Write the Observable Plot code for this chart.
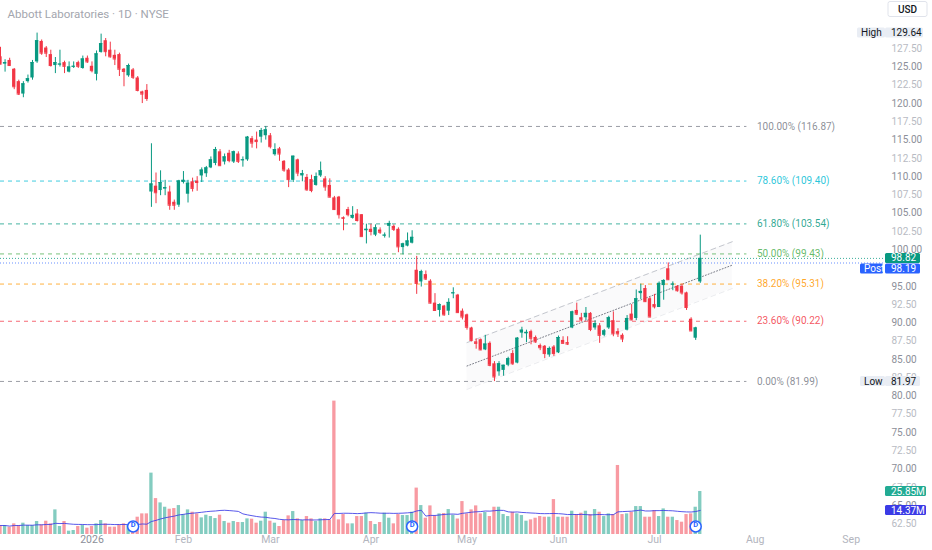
<!DOCTYPE html>
<html><head><meta charset="utf-8">
<script src="https://cdn.jsdelivr.net/npm/d3@7"></script>
<script src="https://cdn.jsdelivr.net/npm/@observablehq/plot@0.6"></script>
<style>
html,body{margin:0;padding:0;background:#fff;}
#chart{position:relative;width:932px;height:550px;overflow:hidden;}
#chart svg{position:absolute;left:0;top:0;background:transparent;}
</style></head><body><div id="chart"></div>
<script>
const title = "Abbott Laboratories · 1D · NYSE";
const currency = "USD";
// daily candles, index 0 = 3 Dec 2025 (trading days)
const open = [126.4,125.4,125.9,124.7,123.0,121.3,123.0,123.5,125.7,128.5,
127.6,126.7,125.2,125.3,125.6,124.3,125.0,125.6,124.8,126.2,
125.1,124.0,127.0,128.6,127.3,126.6,126.7,124.7,123.8,124.6,
123.5,121.6,121.8,107.9,108.7,108.1,108.3,107.9,106.5,106.1,
109.2,107.6,109.3,109.4,110.1,110.4,111.2,111.8,113.4,112.0,
113.2,112.0,113.1,112.2,112.3,115.2,115.0,115.4,115.6,115.6,
113.0,113.8,112.1,110.9,109.5,112.3,110.1,109.9,109.6,108.8,
110.1,109.7,108.8,107.1,107.2,104.4,105.5,104.3,104.9,104.8,
102.6,102.8,102.0,102.7,101.9,103.2,103.2,102.8,100.3,100.5,
100.9,97.2,95.6,96.6,95.7,92.7,91.7,92.3,91.6,94.0,
93.8,91.6,91.1,89.3,87.4,87.7,86.3,87.2,84.4,83.3,
83.5,84.2,85.8,84.5,88.6,88.5,88.8,88.0,86.9,86.8,
85.6,86.7,85.9,87.6,87.3,89.3,91.7,90.7,90.7,91.3,
89.3,89.6,88.3,89.3,90.3,88.8,88.3,89.0,91.2,90.6,
94.0,94.7,93.3,92.5,92.1,95.1,97.4,95.2,95.0,95.0,
94.1,90.5,87.9,95.6];
const high = [127.7,126.0,126.2,124.8,123.2,123.0,123.9,125.9,129.64,128.7,
127.8,127.3,126.3,127.3,125.8,125.7,125.7,125.8,126.5,126.5,
125.7,127.2,129.5,128.9,128.4,127.3,126.9,124.8,125.4,124.8,
123.7,121.7,122.6,114.5,110.5,110.8,109.5,108.7,106.8,109.5,
110.7,109.5,109.8,110.0,111.2,111.4,112.7,114.0,113.7,113.1,
113.6,113.5,113.4,112.7,115.5,115.5,116.1,116.6,116.87,115.9,
114.5,114.0,112.2,111.1,112.8,112.4,110.85,110.3,110.2,110.5,
112.0,110.0,109.7,107.3,107.3,104.5,105.8,105.9,105.5,104.8,
103.5,103.5,103.4,103.0,102.3,103.9,103.4,103.0,100.9,102.3,
102.6,99.1,97.2,97.1,95.9,94.0,92.6,92.4,93.3,94.8,
93.9,91.9,91.2,89.4,87.8,87.8,88.3,87.4,84.7,84.7,
84.2,85.3,86.2,88.0,89.4,89.0,89.0,88.2,87.1,86.9,
86.7,86.9,88.2,88.1,88.1,91.6,92.7,91.3,92.1,91.4,
90.3,89.9,89.1,90.9,91.5,89.2,88.5,91.0,92.5,94.5,
95.3,95.1,93.5,93.9,95.6,95.9,98.2,95.6,95.1,95.3,
94.2,90.7,89.4,102.0];
const low = [125.3,124.3,125.1,121.9,121.1,120.8,122.8,123.2,125.5,126.6,
126.3,125.0,124.1,125.0,124.1,124.2,124.8,124.8,124.7,125.5,
124.2,123.1,126.9,126.4,126.2,125.2,123.7,122.3,123.6,123.3,
121.6,120.0,120.3,105.8,106.3,107.4,107.4,105.4,105.4,105.8,
109.0,106.4,107.9,108.0,109.2,109.9,111.1,111.5,111.4,111.6,
111.9,111.8,111.8,111.3,112.1,113.9,113.8,114.6,115.0,113.8,
112.8,112.1,110.6,108.5,109.2,110.0,109.3,108.0,107.8,108.7,
109.9,108.0,107.1,105.4,104.2,102.6,104.5,104.2,103.8,101.8,
100.8,101.9,101.8,102.1,101.6,101.6,102.5,99.6,99.3,100.4,
100.8,93.9,94.9,95.8,92.6,91.6,90.8,90.9,91.0,93.3,
91.3,90.4,89.0,87.4,86.4,86.2,86.2,84.0,81.97,82.7,
82.7,84.0,84.2,84.4,87.9,87.3,87.0,87.2,86.2,85.1,
85.3,85.4,85.8,87.1,86.9,89.2,91.0,90.1,90.3,88.8,
89.0,87.2,88.1,89.1,88.1,88.0,87.3,88.9,90.3,90.3,
93.2,92.8,90.7,91.9,92.1,93.1,95.8,94.4,94.2,93.8,
91.7,88.8,87.6,95.4];
const close = [125.4,125.6,125.2,122.3,121.3,122.7,123.4,125.6,128.6,126.9,
126.9,125.2,125.6,125.4,125.1,125.0,125.1,125.1,126.1,125.7,
124.5,126.8,128.2,127.1,126.4,126.1,124.7,124.4,125.2,123.6,
121.8,121.3,120.7,109.0,107.8,109.2,108.5,106.1,106.1,109.4,
109.5,109.1,108.4,109.2,110.9,111.2,112.3,113.7,111.5,112.7,
112.2,113.4,112.1,112.3,115.4,114.6,114.8,116.3,116.4,114.1,
113.7,113.1,110.9,109.6,112.8,110.5,110.4,108.2,108.1,110.0,
110.8,108.6,107.2,105.5,104.8,104.3,104.8,104.7,104.0,101.8,
102.8,102.5,103.0,102.4,102.0,103.6,102.8,100.4,100.8,101.2,
101.7,95.4,97.0,96.0,92.7,91.7,92.5,91.1,92.8,94.1,
91.4,90.8,89.4,87.6,87.2,86.3,87.1,84.2,82.6,84.4,
84.2,85.1,84.4,87.9,89.0,88.7,87.9,87.4,86.6,85.8,
86.5,85.8,88.0,87.2,87.1,91.5,91.2,90.4,91.3,89.1,
89.9,88.3,88.9,90.7,88.5,88.5,87.8,90.6,90.4,93.3,
94.3,92.9,90.8,92.2,95.4,95.8,95.9,95.3,94.4,94.1,
92.1,88.9,89.3,98.82];
// volume in millions
const volume = [5.4,5.4,4.4,6.4,5.4,6.8,5.4,5.4,7.8,5.8,
8.0,6.4,14.8,4.8,7.8,2.0,2.4,4.8,5.4,3.8,
4.8,6.4,8.4,6.4,4.4,4.4,5.8,6.4,5.4,5.4,
10.4,12.4,12.4,36.9,21.6,19.0,16.4,15.2,15.6,17.4,
12.0,14.8,13.4,12.4,10.0,11.6,10.8,9.6,11.6,7.8,
6.8,7.8,7.2,7.2,9.4,9.2,6.8,8.0,13.4,8.0,
6.8,4.8,8.4,11.2,13.8,9.4,8.4,10.8,9.4,7.8,
9.4,9.4,8.8,80.2,8.8,12.0,6.4,6.4,10.8,10.8,
12.8,7.8,6.0,7.2,12.8,9.8,6.4,12.0,11.4,11.4,
13.4,27.9,17.4,9.8,17.2,11.1,12.4,12.6,15.0,11.6,
9.3,19.8,12.4,14.8,17.2,12.4,13.2,10.8,16.4,16.4,
12.0,10.8,13.4,12.4,11.4,8.0,8.8,9.8,10.8,10.4,
10.4,21.0,10.4,10.4,10.4,14.0,12.0,12.8,14.0,12.0,
15.0,13.4,10.8,12.4,12.0,41.5,12.0,12.4,13.4,16.8,
16.8,10.4,10.4,14.4,10.8,15.4,10.4,10.4,8.4,7.4,
12.0,12.4,16.4,25.85];
const monthIdx = [20, 40, 59, 81, 102, 122, 143, 165, 186];
const monthLabels = ["2026", "Feb", "Mar", "Apr", "May", "Jun", "Jul", "Aug", "Sep"];
// price-scale labels visible on the right axis (130.00 and 97.50 sit under the High / Post tags)
const priceTicks = [62.5,65,67.5,70,72.5,75,77.5,80,82.5,85,87.5,90,92.5,95,100,
102.5,105,107.5,110,112.5,115,117.5,120,122.5,125,127.5];
const fibPct = [100, 78.6, 61.8, 50, 38.2, 23.6, 0];
const fibValue = [116.87, 109.40, 103.54, 99.43, 95.31, 90.22, 81.99];
const fibSpan = [0, 163.2];           // drawing extent (trading-day index)
const chanIdx = [102, 160];           // regression channel anchors
const chanMid = [84.1, 97.9];
const chanDev = 3.2;
const dividendIdx = [29, 90, 152];
const lastClose = 98.82, postPrice = 98.19, periodHigh = 129.64, periodLow = 81.97;
const lastVolume = 25.85, volumeMA = 14.37;

// ---- styles ----
const FONT = "Roboto, 'Noto Sans', sans-serif";
const GREEN = "#089981", RED = "#f23645", BLUE = "#2962ff", MAC = "#3b3be6";
const fibColors = ["#787b86", "#00bcd4", "#089981", "#4caf50", "#ff9800", "#f23645", "#787b86"];
const W = 932, H = 550, MR = 47;
const xDomain = [0, 193.5];
const BW = 0.36;

const candles = open.map((o, i) => ({i, o, h: high[i], l: low[i], c: close[i], v: volume[i], up: close[i] >= o}));
const fibs = fibPct.map((p, k) => ({p, v: fibValue[k], color: fibColors[k]}));
const chan = chanIdx.map((i, k) => ({i, mid: chanMid[k], hi: chanMid[k] + chanDev, lo: chanMid[k] - chanDev}));
const col = d => d.up ? GREEN : RED;

function tagMark(items) {
  return (index, scales, values, dims) => {
    const sy = typeof scales.y === "function" ? scales.y : scales.scales.y.apply;
    const xr = dims.width - dims.marginRight;
    const g = d3.create("svg:g").attr("font-family", FONT).attr("font-size", 10).attr("text-anchor", "start");
    let prevBottom = -Infinity;
    for (const t of items) {
      const h = 10;
      let cy = sy(t.value);
      if (cy - h / 2 < prevBottom + 0.5) cy = prevBottom + 0.5 + h / 2;
      prevBottom = cy + h / 2;
      if (t.label) {
        g.append("rect").attr("x", xr + t.lx).attr("y", cy - h / 2).attr("width", -t.lx - (t.lgap ?? 2))
          .attr("height", h).attr("rx", 1.5).attr("fill", t.lbg ?? t.bg);
        g.append("text").attr("x", xr + t.lx + 4).attr("y", cy).attr("dy", "0.35em").attr("fill", t.lfg ?? t.fg).text(t.label);
      }
      g.append("rect").attr("x", xr).attr("y", cy - h / 2).attr("width", t.w ?? 35).attr("height", h)
        .attr("rx", 1.5).attr("fill", t.bg);
      g.append("text").attr("x", xr + 6).attr("y", cy).attr("dy", "0.35em").attr("fill", t.fg).text(t.text);
    }
    return g.node();
  };
}
function currencyBox() {
  return (index, scales, values, dims) => {
    const xr = dims.width - dims.marginRight;
    const g = d3.create("svg:g").attr("font-family", FONT);
    g.append("rect").attr("x", xr + 3).attr("y", 1.5).attr("width", 39).attr("height", 15).attr("rx", 2)
      .attr("fill", "#fff").attr("stroke", "#e0e3eb");
    g.append("text").attr("x", xr + 22.5).attr("y", 9).attr("dy", "0.35em").attr("text-anchor", "middle")
      .attr("font-size", 10).attr("font-weight", 500).attr("fill", "#131722").text(currency);
    return g.node();
  };
}

const pricePlot = Plot.plot({
  width: W, height: H, marginLeft: 0, marginRight: MR, marginTop: 0, marginBottom: 22,
  x: {domain: xDomain, axis: null},
  y: {domain: [61.87, 134.10], axis: null},
  color: {type: "identity"},
  style: {background: "transparent", fontFamily: FONT, fontSize: "10px"},
  marks: [
    Plot.areaY(chan, {x: "i", y1: "lo", y2: "hi", fill: "#787b86", fillOpacity: 0.035}),
    Plot.lineY(chan, {x: "i", y: "hi", stroke: "#c4c7ce", strokeDasharray: "5,4", strokeWidth: 1}),
    Plot.lineY(chan, {x: "i", y: "lo", stroke: "#c4c7ce", strokeDasharray: "5,4", strokeWidth: 1, strokeOpacity: 0.35}),
    Plot.lineY(chan, {x: "i", y: "mid", stroke: "#787b86", strokeDasharray: "1,2", strokeWidth: 1}),
    Plot.ruleY(fibs, {y: "v", x1: () => fibSpan[0], x2: () => fibSpan[1], stroke: "color", strokeDasharray: "4,4", strokeOpacity: 0.75}),
    Plot.text(fibs, {x: () => fibSpan[1], y: "v", text: d => `${d.p.toFixed(2)}% (${d.v.toFixed(2)})`,
      textAnchor: "start", dx: 10, fill: "color", fillOpacity: 0.85, fontSize: 10}),
    Plot.ruleY([lastClose], {stroke: GREEN, strokeDasharray: "1,2", strokeOpacity: 0.8}),
    Plot.ruleY([postPrice], {stroke: BLUE, strokeDasharray: "1,2", strokeOpacity: 0.7}),
    Plot.ruleX(candles, {x: "i", y1: "l", y2: "h", stroke: col, strokeWidth: 1}),
    Plot.rect(candles, {x1: d => d.i - BW, x2: d => d.i + BW, y1: "o", y2: "c", fill: col}),
    Plot.ruleY(candles, {y: "c", x1: d => d.i - BW, x2: d => d.i + BW, stroke: col, strokeWidth: 1}),
    Plot.text(priceTicks, {y: d => d, text: d => d.toFixed(2), frameAnchor: "right", dx: 6, textAnchor: "start",
      fill: d => d % 5 === 0 ? "#8c8f99" : "#b8bbc3", fontSize: 10}),
    Plot.text(monthIdx, {x: d => d, text: (d, i) => monthLabels[i], frameAnchor: "bottom", dy: 14,
      fill: (d, i) => i === 0 ? "#8c8f99" : "#b2b5be", fontWeight: (d, i) => i === 0 ? "bold" : "normal", fontSize: 10.5}),
    Plot.text([title], {frameAnchor: "top-left", dx: 7, dy: 9, textAnchor: "start", fill: "#a3a6ae", fontSize: 11.5}),
    tagMark([
      {value: periodHigh, text: periodHigh.toFixed(2), bg: "#e9edf4", fg: "#131722", label: "High", lx: -28, lgap: 0, w: 38},
      {value: lastClose, text: lastClose.toFixed(2), bg: GREEN, fg: "#fff"},
      {value: postPrice, text: postPrice.toFixed(2), bg: BLUE, fg: "#fff", label: "Post", lx: -25, lgap: 2},
      {value: periodLow, text: periodLow.toFixed(2), bg: "#e9edf4", fg: "#131722", label: "Low", lx: -25, lgap: 0, w: 35}
    ]),
    currencyBox()
  ]
});

const volPlot = Plot.plot({
  width: W, height: H, marginLeft: 0, marginRight: MR, marginTop: 0, marginBottom: 16,
  x: {domain: xDomain, axis: null},
  y: {domain: [0, 321.1], axis: null},
  color: {type: "identity"},
  style: {background: "transparent", fontFamily: FONT, fontSize: "10px"},
  marks: [
    Plot.rectY(candles, {x1: d => d.i - BW, x2: d => d.i + BW, y: "v", fill: col, fillOpacity: 0.5}),
    Plot.lineY(candles, Plot.windowY({k: 20, anchor: "end", reduce: "mean"}, {x: "i", y: "v", stroke: MAC, strokeWidth: 1, strokeOpacity: 0.85})),
    Plot.dot(dividendIdx, {x: d => d, frameAnchor: "bottom", dy: -8, r: 5.5, stroke: BLUE, fill: "#fff", strokeWidth: 1.5}),
    Plot.text(dividendIdx, {x: d => d, frameAnchor: "bottom", dy: -8, text: () => "D", fill: BLUE, fontSize: 7.5, fontWeight: "bold"}),
    tagMark([
      {value: lastVolume, text: lastVolume.toFixed(2) + "M", bg: "#22ab94", fg: "#fff", w: 41},
      {value: volumeMA, text: volumeMA.toFixed(2) + "M", bg: MAC, fg: "#fff", w: 41}
    ])
  ]
});

const root = document.getElementById("chart");
root.append(pricePlot);
root.append(volPlot);
</script></body></html>
